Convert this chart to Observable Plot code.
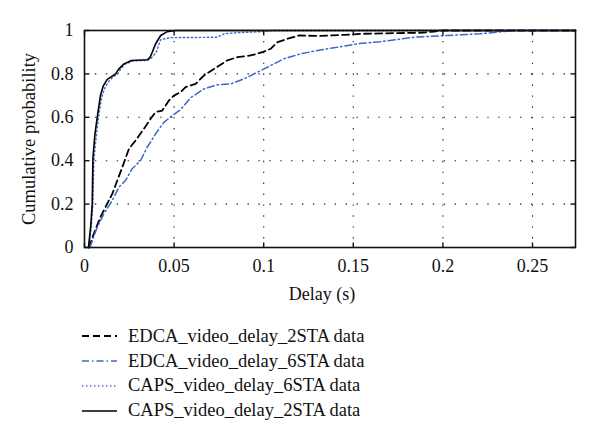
<!DOCTYPE html>
<html>
<head>
<meta charset="utf-8">
<script src="https://cdn.jsdelivr.net/npm/d3@7"></script>
<script src="https://cdn.jsdelivr.net/npm/@observablehq/plot@0.6"></script>
<style>
  html, body { margin: 0; padding: 0; background: #fff; }
  body { width: 600px; height: 444px; overflow: hidden; font-family: "Liberation Serif", "DejaVu Serif", serif; }
  #legend { padding-top: 14px; }
  .row { display: flex; align-items: center; height: 24.8px; font-size: 18.5px; color: #111; }
  .row svg { margin-left: 82px; margin-right: 11px; }
</style>
</head>
<body>
<div id="chart"></div>
<div id="legend"></div>
<script>
// ---- Data ----
const seriesNames = [
  "EDCA_video_delay_2STA data",
  "EDCA_video_delay_6STA data",
  "CAPS_video_delay_6STA data",
  "CAPS_video_delay_2STA data"
];

const edca2X = [0.0024, 0.0052, 0.0089, 0.0117, 0.0155, 0.0183, 0.0211, 0.0248, 0.0285, 0.0332, 0.0369, 0.0397, 0.0434, 0.0471, 0.0499, 0.0536, 0.0564, 0.062, 0.0667, 0.0722, 0.0797, 0.0853, 0.0927, 0.0993, 0.104, 0.1077, 0.1133, 0.1197, 0.13, 0.145, 0.156, 0.175, 0.189, 0.195, 0.2, 0.274];
const edca2Y = [0, 0.063, 0.14, 0.186, 0.247, 0.309, 0.37, 0.455, 0.493, 0.547, 0.593, 0.624, 0.631, 0.677, 0.70, 0.716, 0.739, 0.754, 0.793, 0.823, 0.862, 0.877, 0.885, 0.90, 0.916, 0.946, 0.962, 0.977, 0.975, 0.98, 0.985, 0.988, 0.99, 0.995, 1, 1];

const edca6X = [0.003, 0.0071, 0.0108, 0.0155, 0.0192, 0.0229, 0.0266, 0.0313, 0.035, 0.0397, 0.0443, 0.049, 0.0536, 0.0592, 0.0667, 0.0741, 0.0816, 0.089, 0.0965, 0.104, 0.1114, 0.1207, 0.13, 0.1412, 0.1524, 0.165, 0.184, 0.203, 0.221, 0.24, 0.274];
const edca6Y = [0, 0.094, 0.155, 0.217, 0.278, 0.309, 0.363, 0.401, 0.462, 0.524, 0.577, 0.608, 0.635, 0.69, 0.731, 0.75, 0.754, 0.777, 0.808, 0.839, 0.87, 0.893, 0.908, 0.923, 0.939, 0.948, 0.969, 0.977, 0.985, 1, 1];

const caps6X = [0.0024, 0.0038, 0.0047, 0.0052, 0.0064, 0.0078, 0.0095, 0.0115, 0.014, 0.0165, 0.0185, 0.02, 0.0225, 0.027, 0.035, 0.037, 0.04, 0.0425, 0.048, 0.074, 0.078, 0.085, 0.1, 0.105, 0.274];
const caps6Y = [0, 0.1, 0.2, 0.4, 0.5, 0.6, 0.69, 0.74, 0.77, 0.79, 0.80, 0.82, 0.845, 0.86, 0.862, 0.87, 0.9, 0.958, 0.967, 0.969, 0.985, 0.99, 0.995, 1, 1];

const caps2X = [0.0022, 0.0035, 0.0043, 0.0047, 0.0058, 0.0071, 0.0089, 0.0105, 0.0127, 0.0155, 0.0173, 0.0192, 0.022, 0.0262, 0.035, 0.0365, 0.0378, 0.0397, 0.0425, 0.0462, 0.0508, 0.274];
const caps2Y = [0, 0.1, 0.2, 0.41, 0.52, 0.6, 0.70, 0.745, 0.775, 0.79, 0.80, 0.823, 0.846, 0.862, 0.865, 0.875, 0.9, 0.939, 0.977, 0.995, 1, 1];

const xDomain = [0, 0.274];
const yDomain = [0, 1];
const xTicks = [0, 0.05, 0.1, 0.15, 0.2, 0.25];
const xTickLabels = ["0", "0.05", "0.1", "0.15", "0.2", "0.25"];
const yTicks = [0, 0.2, 0.4, 0.6, 0.8, 1];
const yTickLabels = ["0", "0.2", "0.4", "0.6", "0.8", "1"];
const xLabel = "Delay (s)";
const yLabel = "Cumulative probability";

// ---- Styles ----
const blue = "#4066cc";
const styles = [
  {stroke: "#000", strokeWidth: 1.8, dash: "7,4"},
  {stroke: blue, strokeWidth: 1.5, dash: "7,3,1.5,3"},
  {stroke: blue, strokeWidth: 1.4, dash: "1.4,2.6"},
  {stroke: "#000", strokeWidth: 1.6, dash: null}
];

const toRows = (xs, ys) => xs.map((x, i) => ({x, y: ys[i]}));
const series = [
  toRows(edca2X, edca2Y),
  toRows(edca6X, edca6Y),
  toRows(caps6X, caps6Y),
  toRows(caps2X, caps2Y)
];

const fmtX = d => xTickLabels[xTicks.indexOf(d)];
const fmtY = d => yTickLabels[yTicks.indexOf(d)];

const lineMarks = series.map((data, i) => Plot.line(data, {
  x: "x", y: "y",
  stroke: styles[i].stroke,
  strokeWidth: styles[i].strokeWidth,
  strokeDasharray: styles[i].dash
}));

// inward tick glyphs (MATLAB-style box ticks)
const TL = 5;
const tickUp = {draw(ctx) { ctx.moveTo(0, 0); ctx.lineTo(0, -TL); }};
const tickDown = {draw(ctx) { ctx.moveTo(0, 0); ctx.lineTo(0, TL); }};
const tickRight = {draw(ctx) { ctx.moveTo(0, 0); ctx.lineTo(TL, 0); }};
const tickLeft = {draw(ctx) { ctx.moveTo(0, 0); ctx.lineTo(-TL, 0); }};
const tickOpts = {fill: "none", stroke: "#111", strokeWidth: 1.4, r: 3};

const chart = Plot.plot({
  width: 600,
  height: 310,
  marginLeft: 84,
  marginRight: 25,
  marginTop: 30,
  marginBottom: 63,
  style: {fontFamily: "Liberation Serif, serif", fontSize: "18px", color: "#111", background: "white"},
  x: {domain: xDomain, label: null},
  y: {domain: yDomain, label: null},
  marks: [
    Plot.gridX(xTicks.slice(1), {stroke: "#222", strokeOpacity: 1, strokeWidth: 1.1, strokeDasharray: "1.4,9.5"}),
    Plot.gridY(yTicks.slice(1, -1), {stroke: "#222", strokeOpacity: 1, strokeWidth: 1.1, strokeDasharray: "1.4,9.5"}),
    ...lineMarks,
    Plot.axisX(xTicks, {anchor: "bottom", tickSize: 0, tickPadding: 12, tickFormat: fmtX, fontSize: 18}),
    Plot.axisY(yTicks, {anchor: "left", tickSize: 0, tickPadding: 11, tickFormat: fmtY, fontSize: 18}),
    Plot.dot(xTicks, {x: d => d, y: () => yDomain[0], symbol: tickUp, ...tickOpts}),
    Plot.dot(xTicks, {x: d => d, y: () => yDomain[1], symbol: tickDown, ...tickOpts}),
    Plot.dot(yTicks, {y: d => d, x: () => xDomain[0], symbol: tickRight, ...tickOpts}),
    Plot.dot(yTicks, {y: d => d, x: () => xDomain[1], symbol: tickLeft, ...tickOpts}),
    Plot.frame({stroke: "#111", strokeWidth: 1.6}),
    Plot.text([xLabel], {frameAnchor: "bottom", text: d => d, dy: 47, dx: -8, fontSize: 18, lineAnchor: "middle"}),
    Plot.text([yLabel], {frameAnchor: "left", text: d => d, dx: -55, dy: 0, rotate: -90, fontSize: 18.5, textAnchor: "middle", lineAnchor: "middle"})
  ]
});
document.getElementById("chart").appendChild(chart);

// ---- Legend ----
const legend = document.getElementById("legend");
seriesNames.forEach((name, i) => {
  const row = document.createElement("div");
  row.className = "row";
  const s = styles[i];
  row.innerHTML = `<svg width="35" height="10"><line x1="0" y1="5" x2="35" y2="5" stroke="${s.stroke}" stroke-width="${s.strokeWidth}" ${s.dash ? `stroke-dasharray="${s.dash}"` : ""}/></svg><span>${name}</span>`;
  legend.appendChild(row);
});
</script>
</body>
</html>
